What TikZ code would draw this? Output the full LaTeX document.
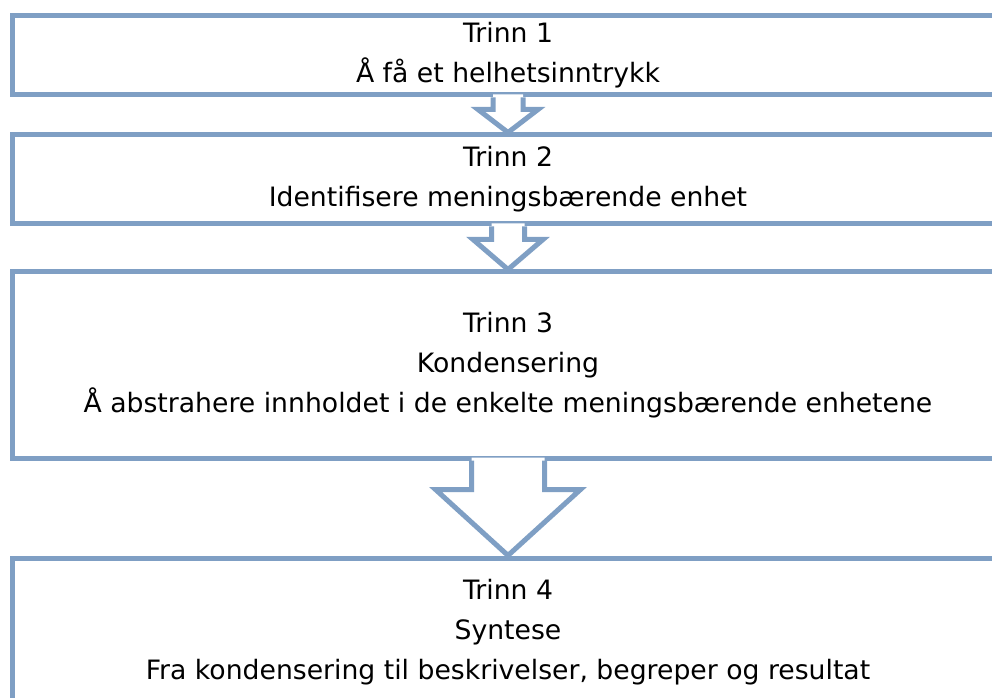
\documentclass[tikz,border=0pt]{standalone}
\usepackage{fontspec}
\setmainfont{DejaVu Sans}
\usetikzlibrary{calc}
\definecolor{stageblue}{RGB}{127,159,196}

\begin{document}
\begin{tikzpicture}[x=0.75pt,y=-0.75pt,
		stage/.style={rectangle, draw=stageblue, line width=3.75pt, minimum width=744pt, inner sep=0pt, align=center, font=\fontsize{20}{30}\selectfont},
		flow/.style={draw=stageblue, line width=3.75pt, line join=miter}
		]
	\clip (0,0) rectangle (992,698);

	% Trinn
	\node[stage, minimum height=59.25pt] (T1) at (508,55.5) {Trinn 1\\Å få et helhetsinntrykk};
	\node[stage, minimum height=66.75pt] (T2) at (508,179.5) {Trinn 2\\Identifisere meningsbærende enhet};
	\node[stage, minimum height=139.5pt] (T3) at (508,365) {Trinn 3\\Kondensering\\Å abstrahere innholdet i de enkelte meningsbærende enhetene};
	\node[stage, minimum height=111pt] (T4) at (508,632) {Trinn 4\\Syntese\\Fra kondensering til beskrivelser, begreper og resultat};

	% Pilene mellom trinnene
	\foreach \a/\b/\s/\h/\l in {T1/T2/15/30/12, T2/T3/16.5/35/13, T3/T4/36.5/72.5/29} {
		\fill[white] ($(\a.south)+(-\s,-3)$) -- ($(\a.south)+(-\s,\l)$) -- ($(\a.south)+(-\h,\l)$)
			-- (\b.north) -- ($(\a.south)+(\h,\l)$) -- ($(\a.south)+(\s,\l)$) -- ($(\a.south)+(\s,-3)$) -- cycle;
		\draw[flow] ($(\a.south)+(-\s,0)$) -- ($(\a.south)+(-\s,\l)$) -- ($(\a.south)+(-\h,\l)$)
			-- (\b.north) -- ($(\a.south)+(\h,\l)$) -- ($(\a.south)+(\s,\l)$) -- ($(\a.south)+(\s,0)$);
	}
\end{tikzpicture}
\end{document}
